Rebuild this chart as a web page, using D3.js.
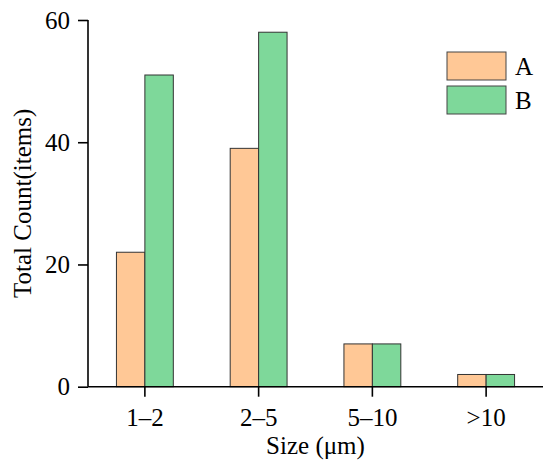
<!DOCTYPE html>
<html><head><meta charset="utf-8">
<script src="https://cdn.jsdelivr.net/npm/d3@7/dist/d3.min.js"></script>
<style>body{margin:0;background:#fff}svg text{font-family:"Liberation Serif","Times New Roman",serif;fill:#000}</style>
</head><body><svg id="c" width="550" height="469"></svg>
<script>
const categories = ["1\u20132", "2\u20135", "5\u201310", ">10"];
const seriesNames = ["A", "B"];
const valuesA = [22, 39, 7, 2];
const valuesB = [51, 58, 7, 2];
const yTicks = [0, 20, 40, 60];
const colors = ["#FFC896", "#7ED89A"];

const svg = d3.select("#c");
const FS = "25px";
const m = {l: 88, r: 543, t: 20, b: 386.7};
const x = d3.scaleBand().domain(categories).range([m.l, m.r]).padding(0);
const y = d3.scaleLinear().domain([0, 60]).range([m.b, m.t]);
const xs = d3.scaleBand().domain(seriesNames).range([0, x.bandwidth() * 0.5]);
const off = x.bandwidth() * 0.25;
const series = [valuesA, valuesB];

series.forEach((vals, si) => {
  svg.append("g").selectAll("rect").data(vals).join("rect")
    .attr("x", (d, i) => x(categories[i]) + off + xs(seriesNames[si]))
    .attr("y", d => y(d))
    .attr("width", xs.bandwidth())
    .attr("height", d => y(0) - y(d))
    .attr("fill", colors[si])
    .attr("stroke", "#333").attr("stroke-width", 1);
});

const yAxis = svg.append("g").attr("transform", `translate(${m.l},0)`)
  .call(d3.axisLeft(y).tickValues(yTicks).tickSize(10).tickPadding(8));
const xAxis = svg.append("g").attr("transform", `translate(0,${m.b})`)
  .call(d3.axisBottom(x).tickSize(10).tickPadding(12));
[yAxis, xAxis].forEach(a => {
  a.attr("font-size", null).attr("font-family", null);
  a.select(".domain").attr("stroke", "#000").attr("stroke-width", 1.6);
  a.selectAll(".tick line").attr("stroke", "#000").attr("stroke-width", 1.6);
  a.selectAll(".tick text").style("font-size", FS);
});
xAxis.select(".domain").attr("d", `M${m.l},0H${m.r}`);
yAxis.select(".domain").attr("d", `M0,${m.b}V${m.t}`);

svg.append("text").attr("transform", `translate(31,${(m.t + m.b) / 2}) rotate(-90)`)
  .attr("text-anchor", "middle").style("font-size", FS).text("Total Count(items)");
svg.append("text").attr("x", (m.l + m.r) / 2).attr("y", 454)
  .attr("text-anchor", "middle").style("font-size", FS).text("Size (\u03bcm)");

const lg = svg.append("g");
seriesNames.forEach((n, i) => {
  lg.append("rect").attr("x", 447).attr("y", 52 + i * 34).attr("width", 59).attr("height", 28)
    .attr("fill", colors[i]).attr("stroke", "#444").attr("stroke-width", 1);
  lg.append("text").attr("x", 515).attr("y", 75 + i * 34).style("font-size", FS).text(n);
});
</script></body></html>
